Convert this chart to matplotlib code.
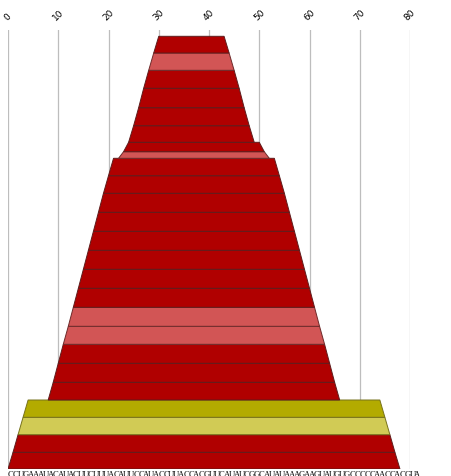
import matplotlib
matplotlib.use("Agg")
import matplotlib.pyplot as plt
from matplotlib.transforms import blended_transform_factory

# sequence along the x axis (one letter per position)
sequence = "CCUGAAAUACAUACUUCUUUACAUUCCAUACCUUACCACGUUCAUAUCGGCAUAUAAAGAAGUAUGUGCCCCCAACCACGUA"

# base pairs, outermost first (i = 5' side, j = 3' side)
pair_i = [0, 1, 2, 3, 8, 9, 10, 11, 12, 13, 14, 15, 16, 17, 18, 19, 20, 22, 23, 24, 25, 26, 27, 28, 29]
pair_j = [77, 76, 75, 74, 65, 64, 63, 62, 61, 60, 59, 58, 57, 56, 55, 54, 53, 51, 50, 48, 47, 46, 45, 44, 43]

# band boundaries (height), one more than the number of pairs
levels = [0, 16.7, 34.3, 51.7, 69, 86.7, 105.7, 124.7, 142.7, 161.7, 180.7, 199.7, 218.7,
          237.7, 256.7, 275.7, 293.3, 310.7, 317.3, 326.7, 343.3, 361.3, 380.7, 398.7, 416, 432.7]

# pair category -> colour
pair_type = ["dark", "dark", "olive_light", "olive", "dark", "dark", "dark", "light", "light",
             "dark", "dark", "dark", "dark", "dark", "dark", "dark", "dark", "light", "dark",
             "dark", "dark", "dark", "dark", "light", "dark"]

tick_values = [0, 10, 20, 30, 40, 50, 60, 70, 80]

fill_colors = {"dark": "#b00000", "light": "#d25555", "olive": "#b3ab00", "olive_light": "#d1cb55"}
edge_colors = {"dark": "#5e1c1c", "light": "#6e2a2a", "olive": "#77721c", "olive_light": "#77721c"}

fig = plt.figure(figsize=(4.52, 4.77), dpi=100)
ax = fig.add_axes([8 / 452, 7 / 477, 402 / 452, 439 / 477])

# one trapezoid per base pair ----------------------------------------------------
for k in range(len(pair_i)):
    i, j = pair_i[k], pair_j[k]
    y0, y1 = levels[k], levels[k + 1]
    xs = [i, j + 1, j, i + 1]
    ys = [y0, y0, y1, y1]
    ax.fill(xs, ys, facecolor=fill_colors[pair_type[k]], edgecolor=edge_colors[pair_type[k]],
            linewidth=0.7, zorder=2)

ax.set_xlim(0, 80)
ax.set_ylim(0, 439)
ax.set_xticks(tick_values)
ax.set_xticklabels([str(t) for t in tick_values], rotation=45, fontsize=6.5)
ax.xaxis.tick_top()
ax.tick_params(axis="x", length=0, pad=6)
ax.set_yticks([])
ax.grid(axis="x", color="#bdbdbd", linewidth=0.9, zorder=0)
ax.set_axisbelow(True)
for s in ax.spines.values():
    s.set_visible(False)

# sequence letters under the plot (cut by the lower edge, as in the source)
trans = blended_transform_factory(ax.transData, ax.transAxes)
for n, ch in enumerate(sequence):
    ax.text(n + 0.5, -0.003, ch, transform=trans, ha="center", va="top",
            fontsize=6.2, family="Liberation Serif", clip_on=False)

fig.savefig("out.png", dpi=100)
